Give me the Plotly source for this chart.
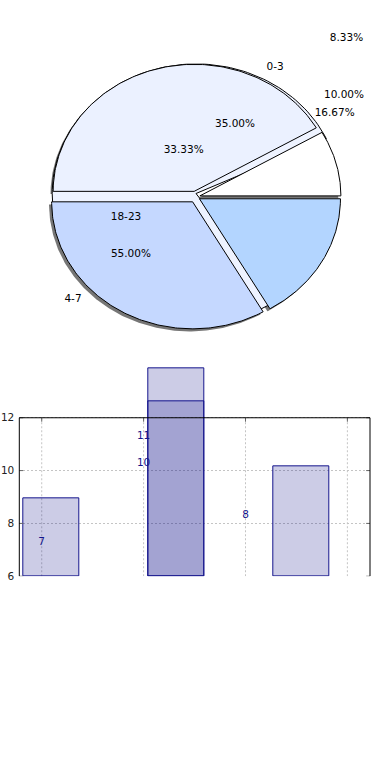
import numpy as np
import plotly.graph_objects as go

W, H = 390, 780

# ---------------- data ----------------
pie_values = [1, 5, 4, 2]                  # 8.33 %, 41.67 %, 33.33 %, 16.67 %
pie_explode = [0.03, 0.045, 0.045, 0.03]
pie_colors = ["#ffffff", "#ebf1ff", "#c5d8ff", "#b3d5ff"]

pct_labels = ["8.33%", "10.00%", "16.67%", "35.00%", "33.33%", "55.00%"]
cat_labels = ["0-3", "18-23", "4-7"]

bar_x = [0.095, 1.325, 2.55]
bar_a = [8.95, 13.87, 10.18]
bar_b_x = [1.325]
bar_b = [12.63]
value_labels = [7, 11, 10, 8]
value_label_x = [0, 1, 1, 2]
y_ticks = [6, 8, 10, 12]
x_ticks = [0, 1, 2, 3]

# ---------------- placement / style (screen pixels) ----------------
pct_label_xy = [(1.069, 1.251), (1.051, 0.802), (0.985, 0.657),
                (0.278, 0.571), (-0.086, 0.370), (-0.46, -0.45)]
cat_label_xy = [(0.562, 1.016), (-0.495, -0.161), (-0.871, -0.807)]

PIE_CX_PX, PIE_CY_PX = 195.8, 198.4
RX_PX, RY_PX = 141.0, 128.0
PIE_BOTTOM_PX = 360.0
SHADOW_PX = 2.6
U_SPAN = (25, 305)
U_R = 1.02
U_SHIFT = (0.0014, 0.0266)
U_COLOR = "#eef3ff"
SHADOW_COLOR = "rgba(60,60,60,0.7)"
BAR_FILL = "rgba(0,0,128,0.2)"
BAR_EDGE = "#14148c"
LABEL_BLUE = "#14148c"
GRID_COLOR = "#c4c4c4"
GRID_DASH = "2px,2px"
FONT = "DejaVu Sans"

AX_L, AX_R = 19.3, 370.0
AX_TOP_PX, AX_BOT_PX = 421.0, 580.7
Y_OVER = 14.25          # headroom so bars can rise above the frame


def fx(px):
    return px / W


def fy(py):
    return 1 - py / H


fig = go.Figure()


def wedge(cx, cy, a0, a1, r=1.0, n=160):
    t = np.radians(np.linspace(a0, a1, n))
    xs = np.concatenate([[cx], cx + r * np.cos(t), [cx]])
    ys = np.concatenate([[cy], cy + r * np.sin(t), [cy]])
    return xs, ys


total = float(sum(pie_values))
bounds = np.concatenate([[0.0], np.cumsum(pie_values)]) / total * 360.0
centers = []
for i in range(len(pie_values)):
    mid = np.radians((bounds[i] + bounds[i + 1]) / 2)
    centers.append((pie_explode[i] * np.cos(mid), pie_explode[i] * np.sin(mid)))

sdx, sdy = -SHADOW_PX / RX_PX, -SHADOW_PX / RY_PX

# wedge shadows
for i in range(len(pie_values)):
    cx, cy = centers[i]
    xs, ys = wedge(cx + sdx, cy + sdy, bounds[i], bounds[i + 1])
    fig.add_trace(go.Scatter(x=xs, y=ys, xaxis="x2", yaxis="y2", mode="lines",
                             fill="toself", fillcolor=SHADOW_COLOR,
                             line=dict(width=0, color=SHADOW_COLOR),
                             hoverinfo="skip", showlegend=False))

# pale underlay seen through the gaps
xs, ys = wedge(U_SHIFT[0], U_SHIFT[1], U_SPAN[0], U_SPAN[1], r=U_R)
fig.add_trace(go.Scatter(x=xs, y=ys, xaxis="x2", yaxis="y2", mode="lines",
                         fill="toself", fillcolor=U_COLOR,
                         line=dict(width=1, color="#000000"),
                         hoverinfo="skip", showlegend=False))

# exploded wedges
for i in range(len(pie_values)):
    cx, cy = centers[i]
    xs, ys = wedge(cx, cy, bounds[i], bounds[i + 1])
    fig.add_trace(go.Scatter(x=xs, y=ys, xaxis="x2", yaxis="y2", mode="lines",
                             fill="toself", fillcolor=pie_colors[i],
                             line=dict(width=1, color="#000000"),
                             hoverinfo="skip", showlegend=False))

# pie texts
all_txt = pct_labels + cat_labels
all_xy = pct_label_xy + cat_label_xy
fig.add_trace(go.Scatter(x=[p[0] for p in all_xy], y=[p[1] for p in all_xy],
                         xaxis="x2", yaxis="y2", mode="text", text=all_txt,
                         textposition="middle center",
                         textfont=dict(family=FONT, size=10.5, color="#000000"),
                         hoverinfo="skip", showlegend=False, cliponaxis=False))

# bars
y_min, y_max = y_ticks[0], y_ticks[-1]
fig.add_trace(go.Scatter(x=value_label_x, y=[v + 0.29 for v in value_labels],
                         mode="text", text=[str(v) for v in value_labels],
                         textfont=dict(family=FONT, size=10.5, color=LABEL_BLUE),
                         hoverinfo="skip", showlegend=False, cliponaxis=False))
fig.add_trace(go.Bar(x=bar_x, y=[v - y_min for v in bar_a], base=y_min, width=0.55,
                     marker=dict(color=BAR_FILL, line=dict(color=BAR_EDGE, width=1)),
                     hoverinfo="skip", showlegend=False))
fig.add_trace(go.Bar(x=bar_b_x, y=[v - y_min for v in bar_b], base=y_min, width=0.55,
                     marker=dict(color=BAR_FILL, line=dict(color=BAR_EDGE, width=1)),
                     hoverinfo="skip", showlegend=False))

# axes geometry
xr0 = -PIE_CX_PX / RX_PX
xr1 = (W - PIE_CX_PX) / RX_PX
yr1 = PIE_CY_PX / RY_PX
yr0 = -(PIE_BOTTOM_PX - PIE_CY_PX) / RY_PX

px_per_unit = (AX_BOT_PX - AX_TOP_PX) / (y_max - y_min)
top_px = AX_TOP_PX - (Y_OVER - y_max) * px_per_unit

shapes = []
for t in x_ticks:
    shapes.append(dict(type="line", xref="x", yref="y", x0=t, x1=t, y0=y_min, y1=y_max,
                       line=dict(color=GRID_COLOR, width=1, dash=GRID_DASH), layer="below"))
for t in y_ticks:
    shapes.append(dict(type="line", xref="x domain", yref="y", x0=0, x1=0.011, y0=t, y1=t,
                       line=dict(color="#666666", width=1), layer="above"))
    shapes.append(dict(type="line", xref="x domain", yref="y", x0=0.989, x1=1, y0=t, y1=t,
                       line=dict(color="#666666", width=1), layer="above"))
for t in x_ticks:
    shapes.append(dict(type="line", xref="x", yref="y", x0=t, x1=t, y0=y_max, y1=y_max - 0.15,
                       line=dict(color="#666666", width=1), layer="above"))
shapes += [
    dict(type="line", xref="x domain", yref="y", x0=0, x1=1, y0=y_max, y1=y_max,
         line=dict(color="#000000", width=1), layer="above"),
    dict(type="line", xref="x domain", yref="y", x0=0, x1=0, y0=y_min, y1=y_max,
         line=dict(color="#000000", width=1), layer="above"),
    dict(type="line", xref="x domain", yref="y", x0=1, x1=1, y0=y_min, y1=y_max,
         line=dict(color="#000000", width=1), layer="above"),
]

fig.update_layout(
    width=W, height=H, autosize=False,
    margin=dict(l=0, r=0, t=0, b=0),
    paper_bgcolor="white", plot_bgcolor="rgba(0,0,0,0)",
    barmode="overlay", bargap=0,
    font=dict(family=FONT, size=10.5, color="#222222"),
    xaxis=dict(domain=[fx(AX_L), fx(AX_R)], range=[-0.22, 3.222],
               showticklabels=False, ticks="", showgrid=False, zeroline=False,
               showline=False),
    yaxis=dict(domain=[fy(AX_BOT_PX), fy(top_px)], range=[y_min, Y_OVER],
               tickvals=y_ticks, ticktext=[str(t) for t in y_ticks],
               ticks="", showline=False, zeroline=False, ticklabelstandoff=4,
               showgrid=True, gridcolor=GRID_COLOR, griddash=GRID_DASH, gridwidth=1,
               tickfont=dict(family=FONT, size=10.5, color="#222222")),
    xaxis2=dict(domain=[0, 1], range=[xr0, xr1], visible=False, anchor="y2"),
    yaxis2=dict(domain=[fy(PIE_BOTTOM_PX), 1], range=[yr0, yr1], visible=False, anchor="x2"),
    shapes=shapes,
)

fig.write_html("out.html", config={"displayModeBar": False},
               post_script="document.documentElement.style.margin='0px';"
                           "document.body.style.margin='0px';"
                           "document.body.style.overflow='hidden';")
